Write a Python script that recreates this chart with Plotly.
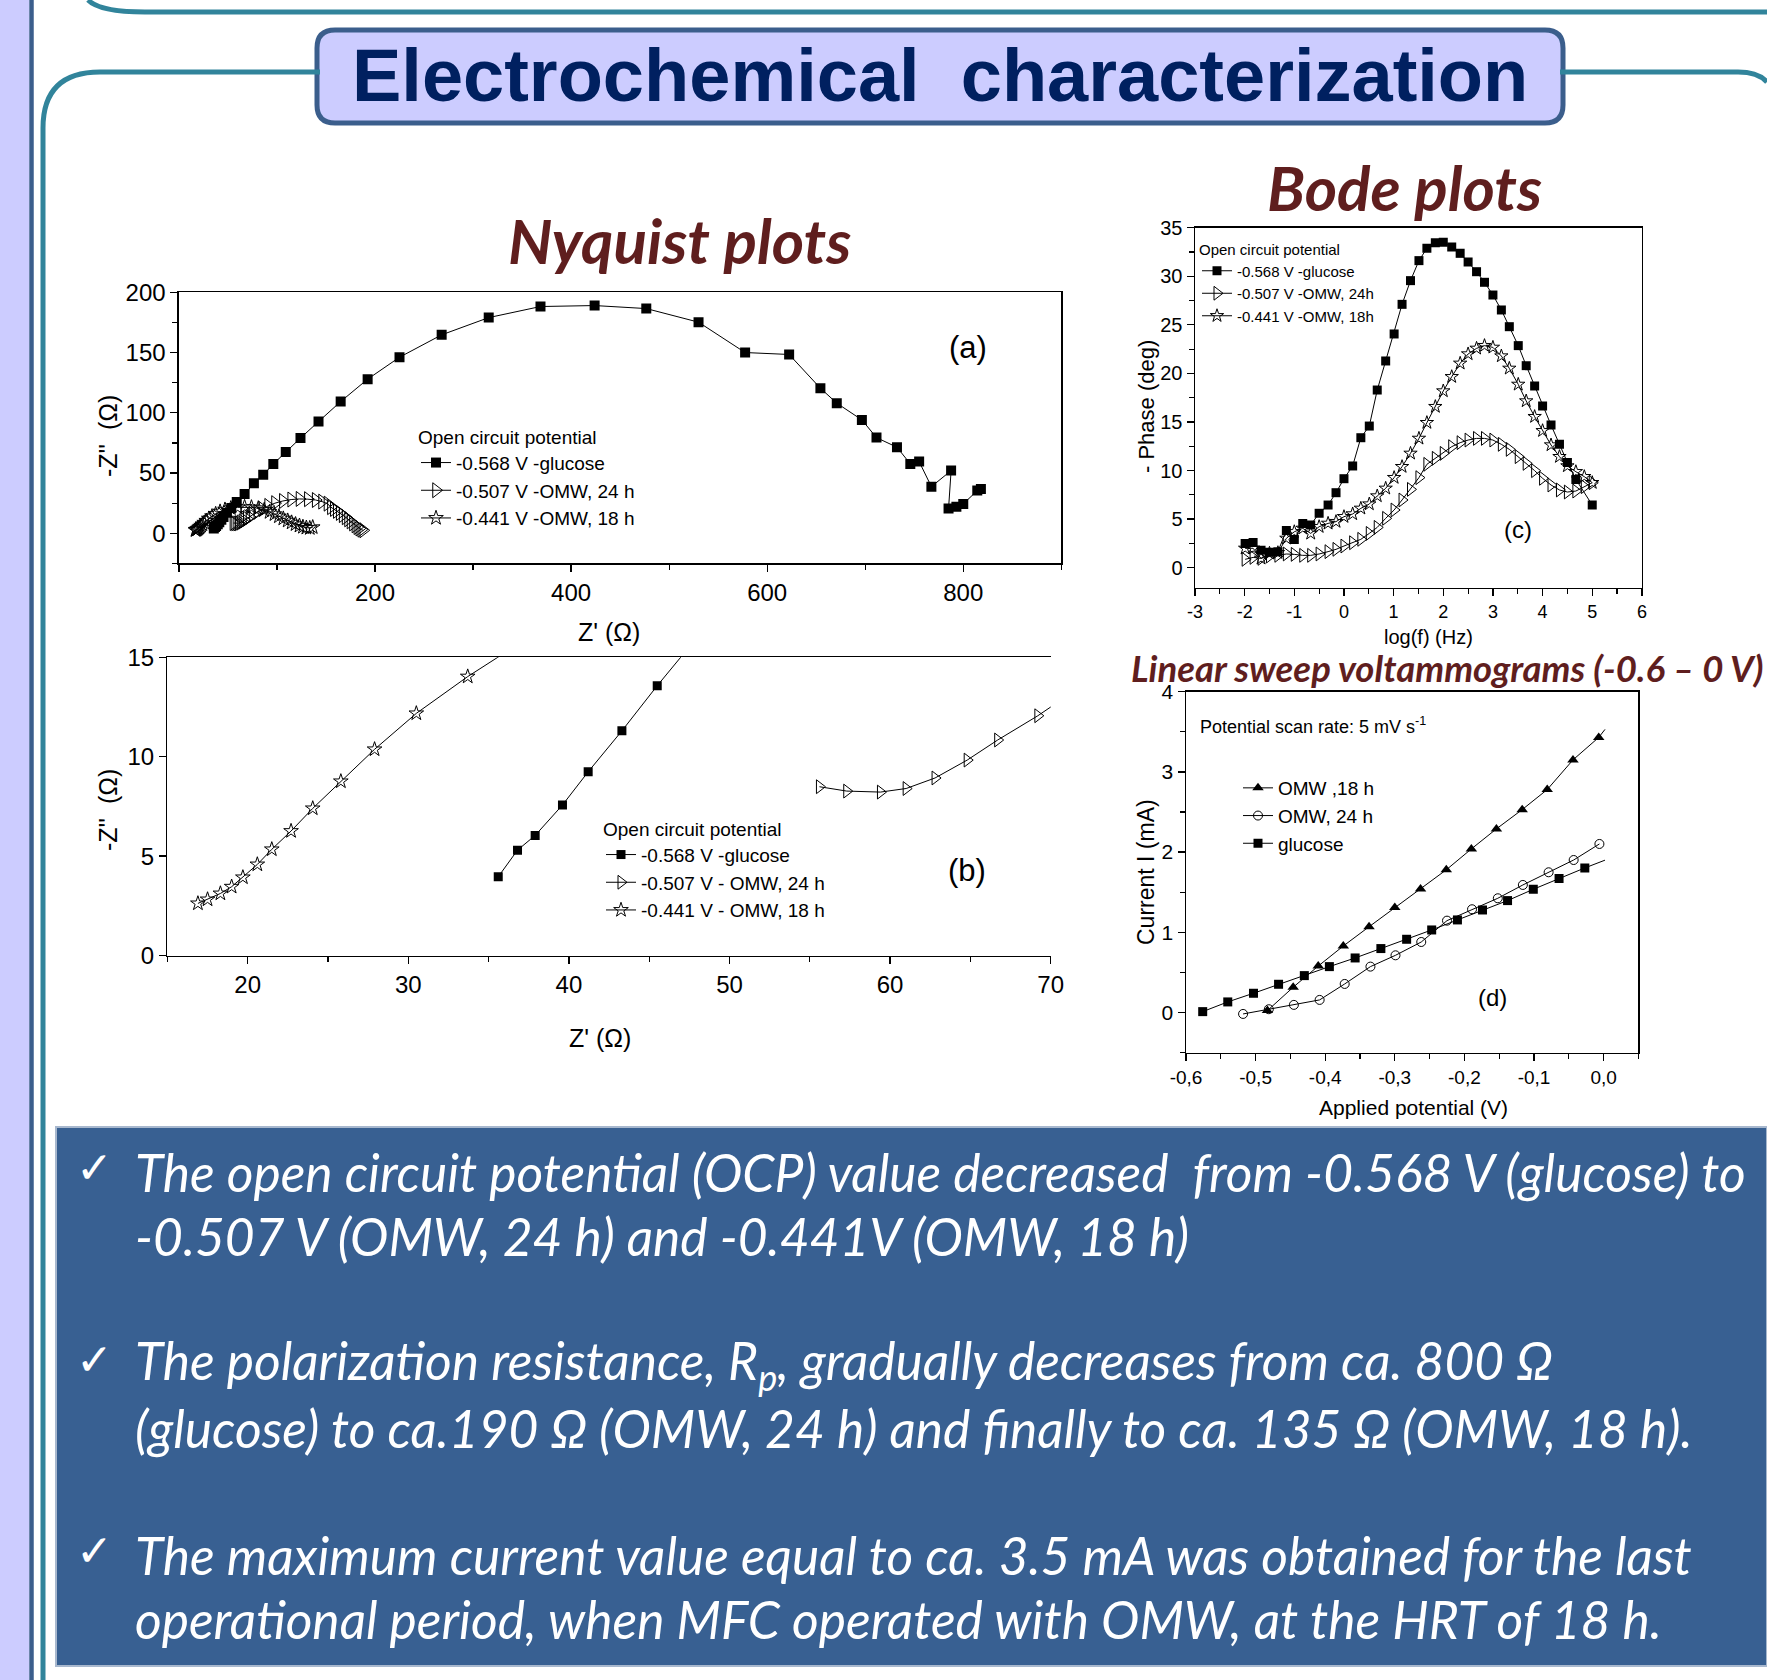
import plotly.graph_objects as go

W, H = 1767, 1680

# ---------------- data ----------------
nyq_glu_x = [35.6, 36.8, 37.9, 39.6, 41.2, 43.3, 45.5, 49, 53.5, 59, 67, 76.5, 86, 96.3, 109, 124,
             142.4, 165, 192.5, 225, 268, 316, 368.8, 424, 476.7, 530, 577.5, 622.4, 654.3, 671,
             696.6, 711.5, 732.4, 746, 755, 767.5, 787.6, 785, 793, 800, 814.3, 818]
nyq_glu_y = [3.96, 5.3, 6.04, 7.57, 9.24, 11.3, 13.57, 17, 21, 26, 32.5, 41.5, 48.5, 57.5, 67.5, 79,
             92.7, 109.3, 127.9, 146.1, 164.7, 179, 188.2, 189, 186.5, 175.2, 150, 148.4, 120.4, 108,
             94.1, 79.4, 71.4, 57.6, 59.5, 38.7, 52, 20.5, 22, 24.4, 35.4, 36.8]
nyq_o24_x = [55.6, 57.3, 59.4, 61.0, 62.8, 64.8, 66.7, 69.2, 72, 75.5, 80, 85, 91, 98, 106, 114.5,
             123, 131.5, 139.5, 146, 151.5, 155, 158, 161, 164, 167, 170, 172.5, 175, 177.5, 180,
             182, 184, 186, 188]
nyq_o24_y = [8.49, 8.27, 8.22, 8.4, 8.93, 9.83, 10.84, 12.06, 13.6, 15.5, 17.8, 20.2, 22.7, 25, 26.8,
             28, 28.5, 28.3, 27.6, 26.3, 24.6, 21.7, 20.2, 18.6, 16.9, 15.1, 13.3, 11.6, 9.9, 8.2,
             6.6, 5.2, 4, 3, 2.5]
nyq_o18_x = [16.9, 17.5, 18.3, 19.0, 19.7, 20.6, 21.5, 22.7, 24.05, 25.8, 27.9, 30.5, 33.7, 37.5, 42,
             47, 53, 60, 67, 74, 81, 87, 92.5, 97.5, 102, 106.5, 111, 115, 119, 123, 126.5, 130,
             133.5, 136.5]
nyq_o18_y = [2.62, 2.82, 3.12, 3.46, 3.93, 4.58, 5.34, 6.26, 7.4, 8.76, 10.37, 12.18, 14.03, 16, 18,
             19.6, 20.8, 21.5, 21.8, 21.5, 20.7, 19.3, 17.6, 15.8, 14, 12.2, 10.5, 8.9, 7.5, 6.3,
             5.3, 4.6, 4.3, 5]

bode_glu_f = [-1.99, -1.83, -1.67, -1.50, -1.33, -1.16, -1.0, -0.83, -0.67, -0.50, -0.32, -0.16, 0.0,
              0.175, 0.34, 0.51, 0.67, 0.84, 1.01, 1.17, 1.34, 1.51, 1.67, 1.84, 2.0, 2.17, 2.34,
              2.50, 2.67, 2.83, 3.0, 3.17, 3.33, 3.51, 3.67, 3.84, 4.0, 4.17, 4.34, 4.5, 4.67, 5.0]
bode_glu_p = [2.5, 2.6, 1.8, 1.6, 1.65, 3.84, 2.9, 4.56, 4.4, 5.6, 6.45, 7.72, 9.16, 10.47, 13.38,
              14.58, 18.29, 21.28, 24.06, 27.11, 29.55, 31.61, 32.88, 33.46, 33.49, 33.01, 32.36,
              31.47, 30.47, 29.38, 28.07, 26.53, 24.81, 22.86, 20.8, 18.7, 16.64, 14.69, 12.7,
              10.84, 9.09, 6.45]
bode_o24_f = [-1.99, -1.83, -1.67, -1.50, -1.33, -1.16, -1.0, -0.83, -0.67, -0.50, -0.32, -0.16, 0.0,
              0.175, 0.34, 0.51, 0.67, 0.84, 1.01, 1.17, 1.34, 1.51, 1.67, 1.84, 2.0, 2.17, 2.34,
              2.50, 2.67, 2.83, 3.0, 3.17, 3.33, 3.51, 3.67, 3.84, 4.0, 4.17, 4.34, 4.5, 4.67,
              4.84, 5.0]
bode_o24_p = [0.86, 1.06, 0.96, 1.2, 1.27, 1.41, 1.37, 1.27, 1.27, 1.41, 1.65, 1.89, 2.23, 2.57,
              2.92, 3.53, 4.15, 5.08, 5.94, 6.97, 8.06, 9.27, 10.64, 11.26, 11.77, 12.46, 12.87,
              13.14, 13.31, 13.31, 13.14, 12.7, 12.18, 11.43, 10.74, 9.99, 9.2, 8.51, 8.0, 7.79,
              7.89, 8.34, 8.75]
bode_o18_f = [-1.99, -1.83, -1.67, -1.50, -1.33, -1.16, -1.0, -0.83, -0.67, -0.50, -0.32, -0.16, 0.0,
              0.175, 0.34, 0.51, 0.67, 0.84, 1.01, 1.17, 1.34, 1.51, 1.67, 1.84, 2.0, 2.17, 2.34,
              2.50, 2.67, 2.83, 3.0, 3.17, 3.33, 3.51, 3.67, 3.84, 4.0, 4.17, 4.34, 4.5, 4.67,
              4.84, 5.0]
bode_o18_p = [1.99, 2.0, 0.96, 1.48, 1.54, 3.02, 3.7, 4.05, 3.53, 4.22, 4.56, 4.74, 5.25, 5.53,
              6.11, 6.55, 7.38, 8.17, 9.27, 10.4, 11.77, 13.31, 14.93, 16.58, 18.19, 19.66, 21.04,
              22.0, 22.58, 22.86, 22.68, 21.79, 20.52, 18.87, 17.16, 15.55, 14.1, 12.63, 11.43,
              10.47, 9.88, 9.37, 8.75]
bode_tickvals = [-3, -2, -1, 0, 1, 2, 3, 4, 5, 6]
bode_ticktext = ["-3", "-2", "-1", "0", "1", "2", "3", "4", "5", "6"]

lsv_o18_v = [-0.483, -0.446, -0.410, -0.374, -0.337, -0.300, -0.263, -0.226, -0.190, -0.154,
             -0.117, -0.081, -0.044, -0.007]
lsv_o18_i = [0.025, 0.316, 0.58, 0.83, 1.07, 1.31, 1.54, 1.78, 2.04, 2.29, 2.53, 2.78, 3.15, 3.43]
lsv_o18_tail_v = [-0.007, 0.002]
lsv_o18_tail_i = [3.43, 3.53]
lsv_o24_v = [-0.518, -0.481, -0.445, -0.408, -0.372, -0.335, -0.299, -0.262, -0.225, -0.189,
             -0.152, -0.116, -0.079, -0.043, -0.006]
lsv_o24_i = [-0.017, 0.042, 0.096, 0.158, 0.357, 0.573, 0.714, 0.88, 1.146, 1.288, 1.425, 1.591,
             1.749, 1.902, 2.102]
lsv_glu_v = [-0.576, -0.540, -0.503, -0.467, -0.430, -0.394, -0.357, -0.320, -0.283, -0.247,
             -0.210, -0.174, -0.138, -0.101, -0.064, -0.027]
lsv_glu_i = [0.012, 0.133, 0.241, 0.353, 0.461, 0.573, 0.681, 0.798, 0.914, 1.03, 1.155, 1.279,
             1.396, 1.537, 1.67, 1.803]
lsv_glu_tail_v = [-0.027, 0.002]
lsv_glu_tail_i = [1.803, 1.9]
lsv_tickvals = [-0.6, -0.5, -0.4, -0.3, -0.2, -0.1, 0.0]
lsv_ticktext = ["-0,6", "-0,5", "-0,4", "-0,3", "-0,2", "-0,1", "0,0"]

bullets = [
    "The open circuit potential (OCP) value decreased  from -0.568 V (glucose) to",
    "-0.507 V (OMW, 24 h) and -0.441V (OMW, 18 h)",
    "The polarization resistance, R<sub>p</sub>, gradually decreases from ca. 800 Ω",
    "(glucose) to ca.190 Ω (OMW, 24 h) and finally to ca. 135 Ω (OMW, 18 h).",
    "The maximum current value equal to ca. 3.5 mA was obtained for the last",
    "operational period, when MFC operated with OMW, at the HRT of 18 h.",
]

# ---------------- helpers ----------------
def px(x):
    return x / W

def py(y):
    return 1 - y / H

NARROW = "Liberation Sans Narrow, Arial Narrow, Liberation Sans, sans-serif"
ARIAL = "Liberation Sans, Arial, sans-serif"
TEAL = "#31849B"
NAVY = "#3B5E8C"
MAROON = "#5F1E1E"

fig = go.Figure()
line_k = dict(color="black", width=1)

def sq(size):
    return dict(symbol="square", size=size, color="black")

def tri(size):
    return dict(symbol="triangle-right-open", size=size, color="black", line=dict(color="black", width=1))

def star(size):
    return dict(symbol="star-open", size=size, color="black", line=dict(color="black", width=1))

fig.add_trace(go.Scatter(x=nyq_glu_x, y=nyq_glu_y, xaxis="x", yaxis="y", mode="lines+markers",
                         line=line_k, marker=sq(10), name="-0.568 V -glucose", legend="legend"))
fig.add_trace(go.Scatter(x=nyq_o24_x, y=nyq_o24_y, xaxis="x", yaxis="y", mode="lines+markers",
                         line=line_k, marker=tri(13), name="-0.507 V -OMW, 24 h", legend="legend"))
fig.add_trace(go.Scatter(x=nyq_o18_x, y=nyq_o18_y, xaxis="x", yaxis="y", mode="lines+markers",
                         line=line_k, marker=star(11), name="-0.441 V -OMW, 18 h", legend="legend"))
fig.add_trace(go.Scatter(x=nyq_glu_x, y=nyq_glu_y, xaxis="x2", yaxis="y2", mode="lines+markers",
                         line=line_k, marker=sq(9), name="-0.568 V -glucose", legend="legend2"))
fig.add_trace(go.Scatter(x=nyq_o24_x, y=nyq_o24_y, xaxis="x2", yaxis="y2", mode="lines+markers",
                         line=line_k, marker=tri(12), name="-0.507 V - OMW, 24 h", legend="legend2"))
fig.add_trace(go.Scatter(x=nyq_o18_x, y=nyq_o18_y, xaxis="x2", yaxis="y2", mode="lines+markers",
                         line=line_k, marker=star(11), name="-0.441 V - OMW, 18 h", legend="legend2"))
fig.add_trace(go.Scatter(x=bode_glu_f, y=bode_glu_p, xaxis="x3", yaxis="y3", mode="lines+markers",
                         line=line_k, marker=sq(9), name="-0.568 V -glucose", legend="legend3"))
fig.add_trace(go.Scatter(x=bode_o24_f, y=bode_o24_p, xaxis="x3", yaxis="y3", mode="lines+markers",
                         line=line_k, marker=tri(12), name="-0.507 V -OMW, 24h", legend="legend3"))
fig.add_trace(go.Scatter(x=bode_o18_f, y=bode_o18_p, xaxis="x3", yaxis="y3", mode="lines+markers",
                         line=line_k, marker=star(10), name="-0.441 V -OMW, 18h", legend="legend3"))
fig.add_trace(go.Scatter(x=lsv_o18_v, y=lsv_o18_i, xaxis="x4", yaxis="y4", mode="lines+markers",
                         line=line_k, marker=dict(symbol="triangle-up", size=10, color="black"),
                         name="OMW ,18 h", legend="legend4"))
fig.add_trace(go.Scatter(x=lsv_o24_v, y=lsv_o24_i, xaxis="x4", yaxis="y4", mode="lines+markers",
                         line=line_k, marker=dict(symbol="circle-open", size=9, color="black",
                                                  line=dict(color="black", width=1)),
                         name="OMW, 24 h", legend="legend4"))
fig.add_trace(go.Scatter(x=lsv_glu_v, y=lsv_glu_i, xaxis="x4", yaxis="y4", mode="lines+markers",
                         line=line_k, marker=sq(9), name="glucose", legend="legend4"))
fig.add_trace(go.Scatter(x=lsv_o18_tail_v, y=lsv_o18_tail_i, xaxis="x4", yaxis="y4", mode="lines",
                         line=line_k, showlegend=False))
fig.add_trace(go.Scatter(x=lsv_glu_tail_v, y=lsv_glu_tail_i, xaxis="x4", yaxis="y4", mode="lines",
                         line=line_k, showlegend=False))

def axis(dom, rng, font, size, mirror=True, **kw):
    d = dict(domain=dom, range=rng, showline=True, linecolor="black", linewidth=1.5,
             ticks="outside", ticklen=7, tickwidth=1.3, tickcolor="black", showgrid=False,
             zeroline=False, mirror=mirror, automargin=False,
             tickfont=dict(family=font, size=size, color="black"))
    d.update(kw)
    return d

def minor(dt, t0=0):
    return dict(dtick=dt, tick0=t0, ticks="outside", ticklen=5, tickwidth=1.2, tickcolor="black")

fig.update_layout(
    xaxis=axis([px(178.9), px(1061.3)], [0, 900], NARROW, 24, anchor="y",
               tickvals=[0, 200, 400, 600, 800], minor=minor(100)),
    yaxis=axis([py(563.4), py(292.3)], [-25, 200], NARROW, 24, anchor="x",
               tickvals=[0, 50, 100, 150, 200], minor=minor(25)),
    xaxis2=axis([px(167.4), px(1050.7)], [15, 70], NARROW, 24, anchor="y2",
                tickvals=[20, 30, 40, 50, 60, 70], minor=minor(5)),
    yaxis2=axis([py(955.5), py(657.3)], [0, 15], NARROW, 24, anchor="x2", mirror=False,
                tickvals=[0, 5, 10, 15]),
    xaxis3=axis([px(1195), px(1641.9)], [-3, 6], ARIAL, 18, anchor="y3",
                tickvals=bode_tickvals, ticktext=bode_ticktext, minor=minor(0.5)),
    yaxis3=axis([py(587.7), py(227.7)], [-2.06, 35], ARIAL, 20, anchor="x3",
                tickvals=[0, 5, 10, 15, 20, 25, 30, 35], minor=minor(2.5)),
    xaxis4=axis([px(1186), px(1638.4)], [-0.6, 0.05], ARIAL, 19, anchor="y4",
                tickvals=lsv_tickvals, ticktext=lsv_ticktext, minor=minor(0.05, -0.6)),
    yaxis4=axis([py(1052.7), py(691.7)], [-0.5, 4], ARIAL, 21, anchor="x4",
                tickvals=[0, 1, 2, 3, 4], minor=minor(0.5)),
)

def legend(x, y, font, size, title=None):
    d = dict(x=px(x), y=py(y), xanchor="left", yanchor="top", bgcolor="rgba(0,0,0,0)",
             borderwidth=0, font=dict(family=font, size=size, color="black"),
             itemwidth=30, tracegroupgap=0)
    if title:
        d["title"] = dict(text=title, font=dict(family=font, size=size, color="black"))
    return d

fig.update_layout(
    legend=legend(416, 419, NARROW, 19, "Open circuit potential"),
    legend2=legend(601, 811, NARROW, 19, "Open circuit potential"),
    legend3=legend(1197, 235, ARIAL, 15, "Open circuit potential"),
    legend4=legend(1238, 769, ARIAL, 19),
)

ann = []

def text(x, y, s, size, font=ARIAL, color="black", xanchor="center", angle=0, **kw):
    a = dict(x=px(x), y=py(y), xref="paper", yref="paper", text=s, showarrow=False,
             xanchor=xanchor, yanchor="middle", textangle=angle,
             font=dict(family=font, size=size, color=color))
    a["font"].update(kw)
    ann.append(a)

text(609, 632, "Z' (Ω)", 25, NARROW)
text(108, 436, "-Z''  (Ω)", 25, NARROW, angle=-90)
text(600, 1038, "Z' (Ω)", 25, NARROW)
text(108, 810, "-Z''  (Ω)", 25, NARROW, angle=-90)
text(1428, 637, "log(f) (Hz)", 20)
text(1146, 407, "- Phase (deg)", 22, angle=-90)
text(1413, 1107, "Applied potential (V)", 21)
text(1146, 872, "Current I (mA)", 23, angle=-90)
text(1198, 725, "Potential scan rate: 5 mV s<sup>-1</sup>", 18, xanchor="left")

for s, xr, yr, xv, yv, sz in [("(a)", "x", "y", 805, 154, 31), ("(b)", "x2", "y2", 64.8, 4.3, 31),
                             ("(c)", "x3", "y3", 3.5, 3.9, 24), ("(d)", "x4", "y4", -0.16, 0.19, 24)]:
    ann.append(dict(x=xv, y=yv, xref=xr, yref=yr, text=s, showarrow=False,
                    font=dict(family=ARIAL, size=sz, color="black")))

text(940, 76, "Electrochemical  characterization", 74, ARIAL, "#002060", weight="bold")
text(679, 240, "Nyquist plots", 62, "Lato, sans-serif", MAROON, weight="bold", style="italic")
text(1404, 187, "Bode plots", 62, "Lato, sans-serif", MAROON, weight="bold", style="italic")
text(1129, 668, "Linear sweep voltammograms (-0.6 – 0 V)", 36.5, "Lato, sans-serif", MAROON,
     xanchor="left", weight="bold", style="italic")

line_y = [1172, 1236, 1364, 1428, 1555, 1619]
for s, yy in zip(bullets, line_y):
    text(133, yy, s, 51.5, "Lato, sans-serif", "white", xanchor="left", style="italic")
for yy in [line_y[0], line_y[2], line_y[4]]:
    text(74, yy - 5, "✓", 44, "DejaVu Sans, sans-serif", "white", xanchor="left")

fig.update_layout(annotations=ann)

def P(x, y):
    return f"{px(x)},{py(y)}"

def rrect(x0, y0, x1, y1, r):
    return (f"M{P(x0 + r, y0)} L{P(x1 - r, y0)} Q{P(x1, y0)} {P(x1, y0 + r)} "
            f"L{P(x1, y1 - r)} Q{P(x1, y1)} {P(x1 - r, y1)} L{P(x0 + r, y1)} "
            f"Q{P(x0, y1)} {P(x0, y1 - r)} L{P(x0, y0 + r)} Q{P(x0, y0)} {P(x0 + r, y0)} Z")

shapes = [
    dict(type="rect", xref="paper", yref="paper", x0=0, x1=px(29), y0=0, y1=1,
         fillcolor="#CCCCFF", line=dict(width=0), layer="below"),
    dict(type="line", xref="paper", yref="paper", x0=px(31.5), x1=px(31.5), y0=0, y1=1,
         line=dict(color=NAVY, width=4.5)),
    dict(type="path", xref="paper", yref="paper",
         path=f"M{P(88, 0)} Q{P(100, 12)} {P(145, 12)} L{P(1767, 12)}",
         line=dict(color=TEAL, width=5)),
    dict(type="path", xref="paper", yref="paper",
         path=f"M{P(43, 1680)} L{P(43, 128)} Q{P(43, 72)} {P(100, 72)} L{P(320, 72)}",
         line=dict(color=TEAL, width=5)),
    dict(type="path", xref="paper", yref="paper",
         path=f"M{P(1560, 72)} L{P(1738, 72)} Q{P(1758, 72)} {P(1767, 82)}",
         line=dict(color=TEAL, width=5)),
    dict(type="path", xref="paper", yref="paper", path=rrect(317, 30, 1563, 123, 18),
         fillcolor="#CCCCFF", line=dict(color=NAVY, width=5), layer="below"),
    dict(type="rect", xref="paper", yref="paper", x0=px(56), x1=1, y0=py(1666), y1=py(1127),
         fillcolor="#386092", line=dict(color="#A8B8CE", width=2), layer="below"),
]
fig.update_layout(shapes=shapes)

fig.update_layout(width=W, height=H, autosize=False,
                  margin=dict(l=0, r=0, t=0, b=0, pad=0, autoexpand=False),
                  paper_bgcolor="white", plot_bgcolor="rgba(0,0,0,0)", showlegend=True)

fig.write_html("out.html", config={"staticPlot": True, "displayModeBar": False})
